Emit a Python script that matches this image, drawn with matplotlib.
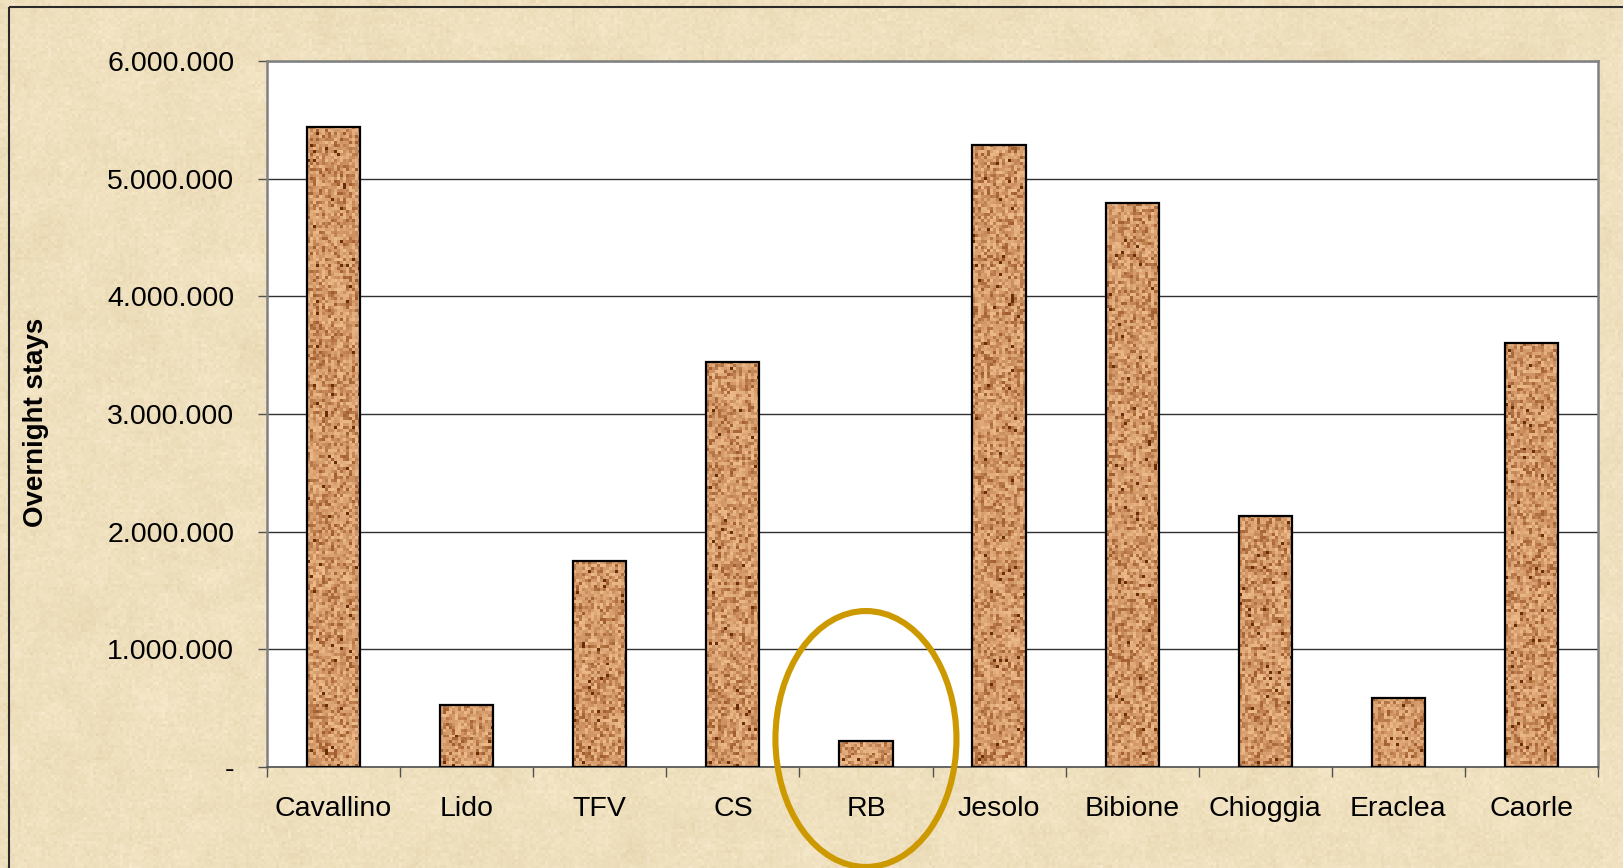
import numpy as np
import matplotlib
matplotlib.use('Agg')
import matplotlib.pyplot as plt
from matplotlib.patches import Ellipse

categories = ['Cavallino', 'Lido', 'TFV', 'CS', 'RB', 'Jesolo', 'Bibione', 'Chioggia', 'Eraclea', 'Caorle']
overnight_stays = [5440000, 525000, 1747000, 3445000, 220000, 5290000, 4790000, 2134000, 583000, 3600000]
y_ticks = [0, 1000000, 2000000, 3000000, 4000000, 5000000, 6000000]
y_tick_labels = ['-', '1.000.000', '2.000.000', '3.000.000', '4.000.000', '5.000.000', '6.000.000']
y_label = 'Overnight stays'
highlight = 'RB'

W, H, DPI = 1624, 868, 100
fig = plt.figure(figsize=(W / DPI, H / DPI), dpi=DPI)
rng = np.random.default_rng(12)


def blur(a, k):
    ker = np.ones(k) / k
    a = np.apply_along_axis(lambda r: np.convolve(r, ker, mode='same'), 1, a)
    a = np.apply_along_axis(lambda c: np.convolve(c, ker, mode='same'), 0, a)
    return a


# ---- parchment background texture ----
bg = fig.add_axes([0, 0, 1, 1], zorder=-10)
h, w = H // 3 + 1, W // 3 + 1
fine = rng.normal(0, 1, (h, w))
coarse = blur(rng.normal(0, 1, (h, w)), 9) * 3.0
big = blur(rng.normal(0, 1, (h, w)), 25) * 6.0
val = 0.4 * fine + 0.7 * coarse + 0.5 * big
base = np.array([239, 224, 190]) / 255.0
amp = np.array([0.020, 0.025, 0.036])
img = np.clip(base[None, None, :] + val[..., None] * amp[None, None, :], 0, 1)
bg.imshow(img, extent=[0, 1, 0, 1], aspect='auto', interpolation='nearest')
bg.set_xlim(0, 1)
bg.set_ylim(0, 1)
bg.set_axis_off()
bx, by = 9 / W, 1 - 6.5 / H
bg.plot([bx, bx], [0, by], color='#2a2a2a', lw=1.5, solid_capstyle='butt')
bg.plot([bx, 1], [by, by], color='#2a2a2a', lw=1.5, solid_capstyle='butt')

# ---- main axes ----
ax = fig.add_axes([267 / W, (H - 767) / H, 1331 / W, 706 / H])
ax.set_facecolor('white')
x = np.arange(len(categories))
bars = ax.bar(x, overnight_stays, width=0.4, color='#CD9463', edgecolor='none', zorder=3)

# textured fill for each bar
light = np.array([238, 188, 140]) / 255.0
mid = np.array([208, 148, 100]) / 255.0
dark = np.array([160, 92, 45]) / 255.0
vdark = np.array([105, 45, 8]) / 255.0
for b in bars:
    x0, y0 = b.get_x(), b.get_y()
    bw, bh = b.get_width(), b.get_height()
    npx_h = max(2, int(bh / 6e6 * 706 / 3) + 1)
    npx_w = 18
    t = rng.random((npx_h, npx_w))
    s = t[..., None]
    tex = mid + (light - mid) * np.clip((s - 0.4) / 0.6, 0, 1) + (dark - mid) * np.clip((0.4 - s) / 0.4, 0, 1) ** 1.3
    spots = rng.random((npx_h, npx_w)) < 0.015
    tex[spots] = vdark
    im = ax.imshow(tex, extent=[x0, x0 + bw, y0, y0 + bh], aspect='auto',
                   interpolation='nearest', zorder=3.2)
    im.set_clip_path(b)
ax.bar(x, overnight_stays, width=0.4, fill=False, edgecolor='black', linewidth=1.6, zorder=3.4)

ax.set_xlim(-0.5, len(categories) - 0.5)
ax.set_ylim(0, 6000000)
ax.set_aspect('auto')

ax.set_yticks(y_ticks)
ax.set_yticklabels(y_tick_labels)
ax.yaxis.grid(True, color='#303030', lw=1.0)
ax.set_axisbelow(True)

ax.set_xticks(np.arange(len(categories) + 1) - 0.5)
ax.set_xticklabels([])
ax.set_xticks(x, minor=True)
ax.set_xticklabels(categories, minor=True)

ax.tick_params(axis='y', which='major', length=6.5, width=1, color='#505050', pad=17,
               labelsize=20.5, labelcolor='black')
ax.tick_params(axis='x', which='major', length=7, width=1, color='#505050')
ax.tick_params(axis='x', which='minor', length=0, pad=21, labelsize=20.5, labelcolor='black')

for sp in ['left', 'top', 'right']:
    ax.spines[sp].set_color('#808080')
    ax.spines[sp].set_linewidth(1.8)
ax.spines['bottom'].set_color('#505050')
ax.spines['bottom'].set_linewidth(1.2)

for lbl in ax.get_yticklabels() + ax.get_xticklabels(minor=True):
    lbl.set_fontfamily(['Liberation Sans', 'DejaVu Sans'])

ax.set_ylabel(y_label, fontsize=20, fontweight='bold', family=['Liberation Sans', 'DejaVu Sans'])
ax.yaxis.set_label_coords(-0.164, 0.488)

# highlight ellipse around RB
hi = categories.index(highlight)
ell = Ellipse((hi, 238000), width=1.36, height=2175000, fill=False,
              edgecolor='#CC9900', lw=4.4, clip_on=False, zorder=10)
ax.add_patch(ell)

fig.savefig('out.png', dpi=DPI)
